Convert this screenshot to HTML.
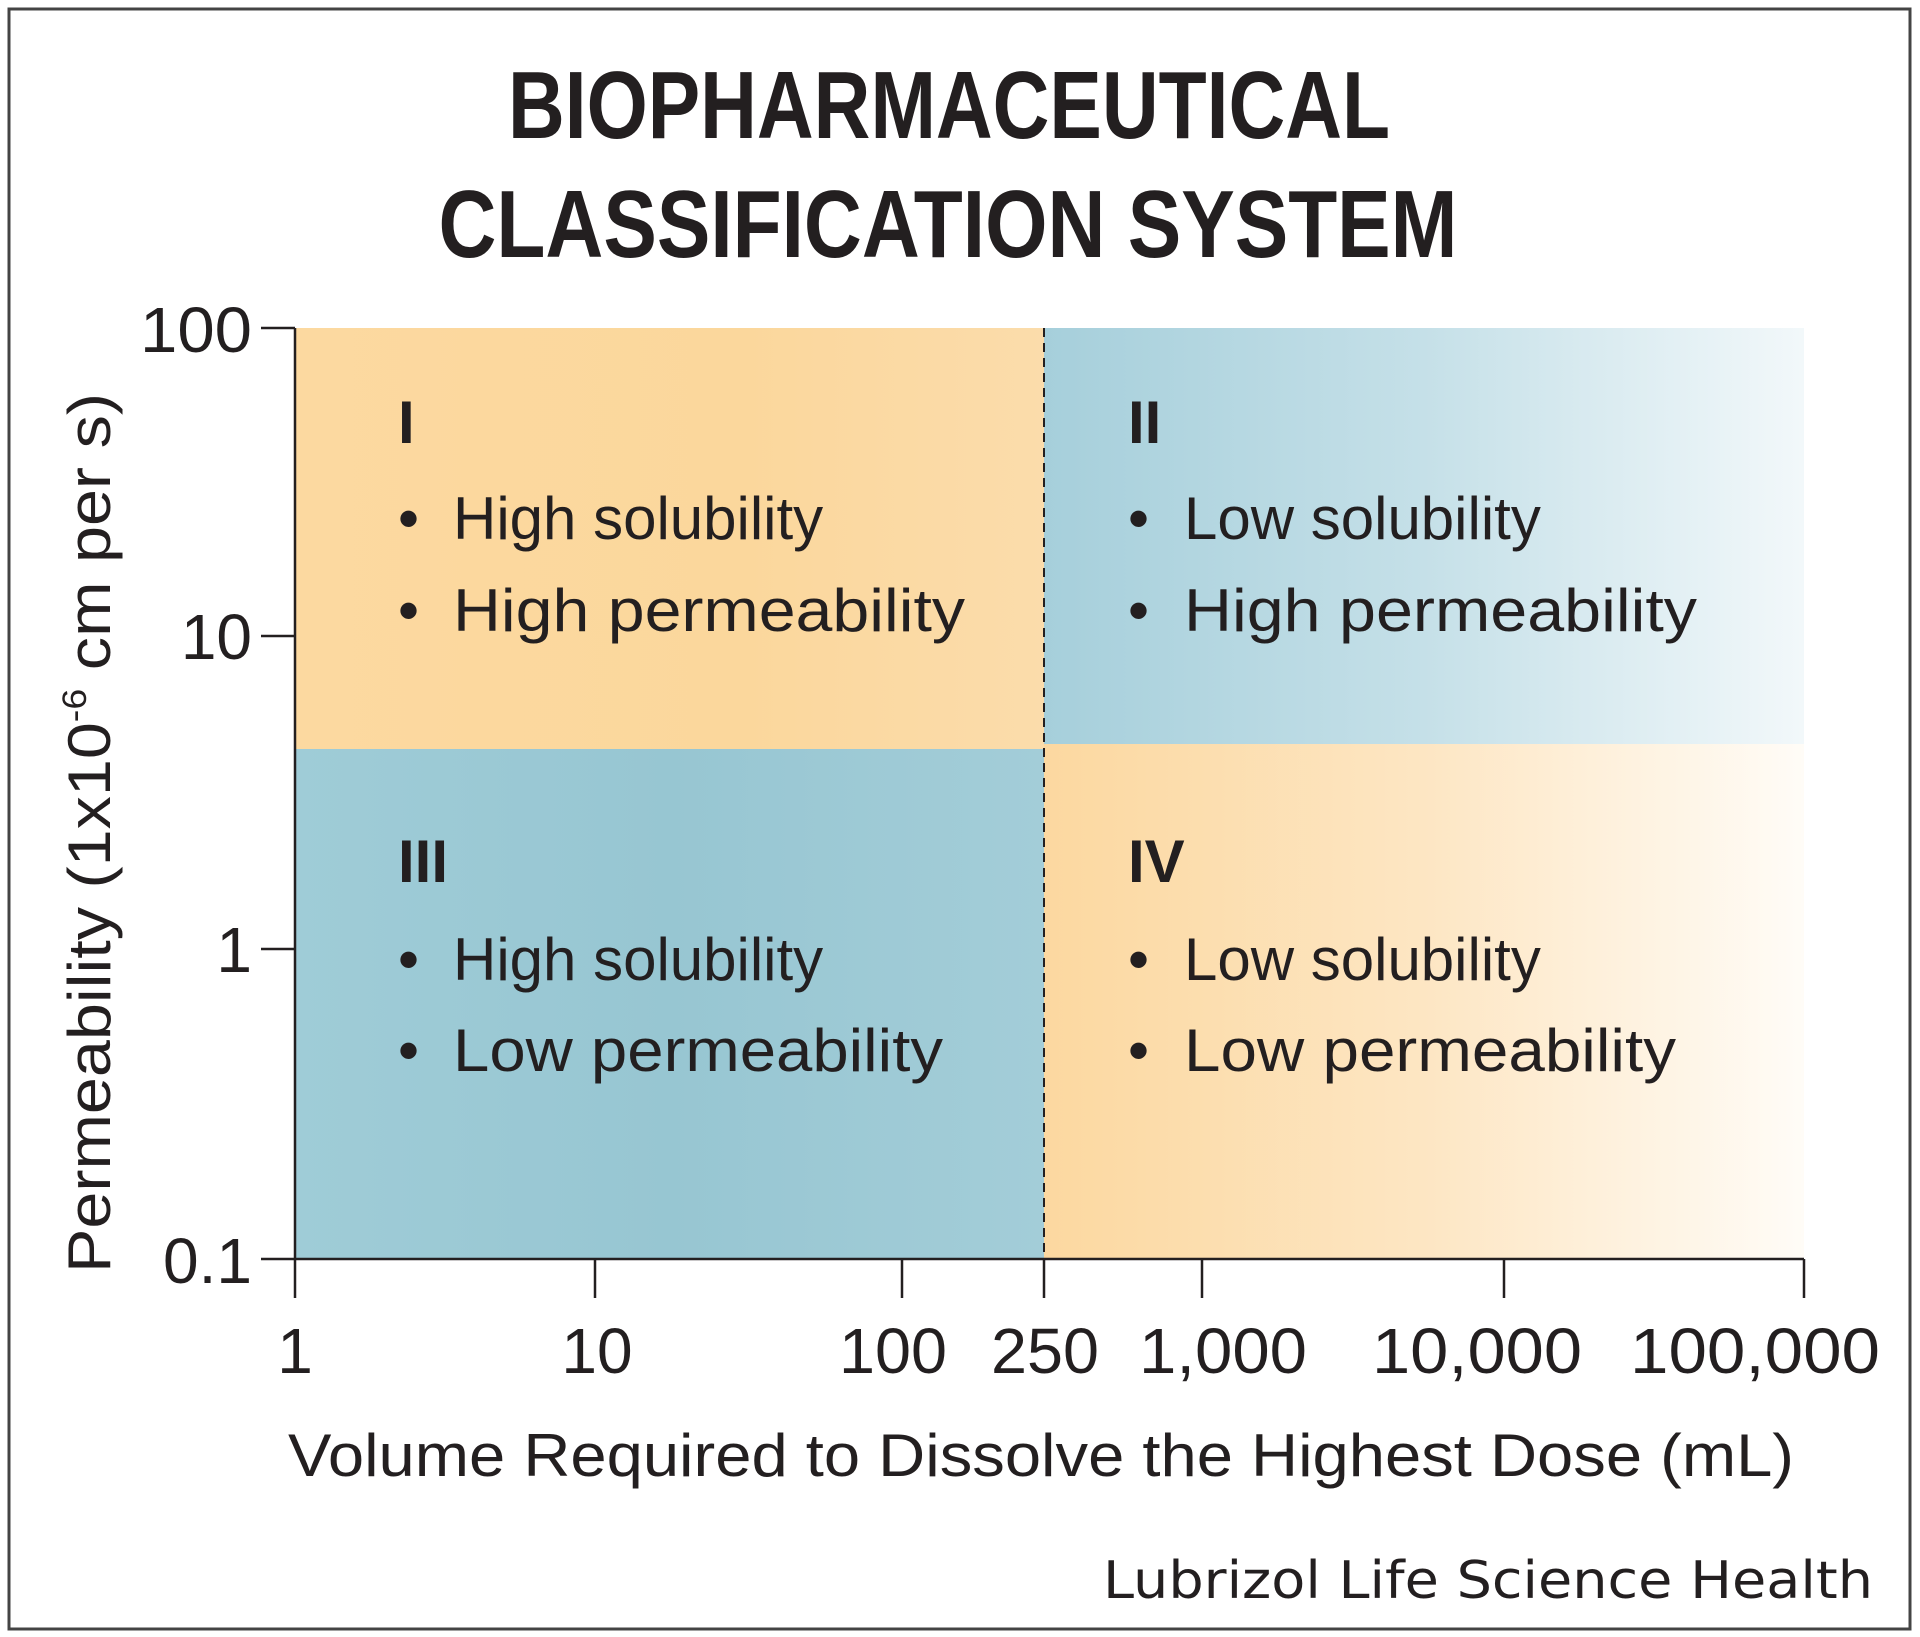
<!DOCTYPE html>
<html><head><meta charset="utf-8"><style>
html,body{margin:0;padding:0;background:#fff}
svg{display:block}
text{font-family:"Liberation Sans",sans-serif;fill:#231f20}
</style></head><body>
<svg width="1920" height="1637" viewBox="0 0 1920 1637" xmlns="http://www.w3.org/2000/svg">
<defs>
<linearGradient id="g1" x1="0" y1="0" x2="1" y2="0"><stop offset="0" stop-color="#fcd9a0"/><stop offset="0.6" stop-color="#fbd79c"/><stop offset="1" stop-color="#fbdcab"/></linearGradient>
<linearGradient id="g2" x1="0" y1="0" x2="1" y2="0"><stop offset="0" stop-color="#a6cfdb"/><stop offset="0.5" stop-color="#c5e0e8"/><stop offset="1" stop-color="#f2f8fa"/></linearGradient>
<linearGradient id="g3" x1="0" y1="0" x2="1" y2="0"><stop offset="0" stop-color="#9fccd7"/><stop offset="0.5" stop-color="#97c6d2"/><stop offset="1" stop-color="#a3cdd8"/></linearGradient>
<linearGradient id="g4" x1="0" y1="0" x2="1" y2="0"><stop offset="0" stop-color="#fcd8a0"/><stop offset="0.5" stop-color="#fde6c3"/><stop offset="1" stop-color="#fffcf7"/></linearGradient>
</defs>
<rect x="9" y="9" width="1901" height="1620" fill="#fff" stroke="#444" stroke-width="3"/>
<text x="949" y="138" font-size="96" font-weight="bold" text-anchor="middle" textLength="882" lengthAdjust="spacingAndGlyphs">BIOPHARMACEUTICAL</text>
<text x="948" y="257" font-size="96" font-weight="bold" text-anchor="middle" textLength="1019" lengthAdjust="spacingAndGlyphs">CLASSIFICATION SYSTEM</text>
<rect x="295" y="328" width="749" height="421" fill="url(#g1)"/>
<rect x="1044" y="328" width="760" height="416" fill="url(#g2)"/>
<rect x="295" y="749" width="749" height="510" fill="url(#g3)"/>
<rect x="1044" y="744" width="760" height="515" fill="url(#g4)"/>
<line x1="1044" y1="328" x2="1044" y2="1259" stroke="#231f20" stroke-width="2" stroke-dasharray="9,6"/>
<g stroke="#231f20" stroke-width="2.5" fill="none">
<path d="M295 328 V1259 H1804"/>
<path d="M261 328 H295 M261 636 H295 M261 949 H295 M261 1259 H295"/>
<path d="M295 1259 V1298 M595 1259 V1298 M902 1259 V1298 M1044 1259 V1298 M1202 1259 V1298 M1504 1259 V1298 M1804 1259 V1298"/>
</g>
<g font-size="64" text-anchor="end" fill="#231f20">
<text x="252" y="352" textLength="112" lengthAdjust="spacingAndGlyphs">100</text><text x="252" y="659">10</text><text x="252" y="972">1</text><text x="252" y="1283">0.1</text>
</g>
<g font-size="64" text-anchor="middle">
<text x="295" y="1373">1</text><text x="597" y="1373">10</text><text x="893" y="1373" textLength="108" lengthAdjust="spacingAndGlyphs">100</text><text x="1045" y="1373" textLength="108" lengthAdjust="spacingAndGlyphs">250</text><text x="1223" y="1373" textLength="168" lengthAdjust="spacingAndGlyphs">1,000</text><text x="1477" y="1373" textLength="210" lengthAdjust="spacingAndGlyphs">10,000</text><text x="1755" y="1373" textLength="250" lengthAdjust="spacingAndGlyphs">100,000</text>
</g>
<text x="1041" y="1476" font-size="60" text-anchor="middle" textLength="1506" lengthAdjust="spacingAndGlyphs">Volume Required to Dissolve the Highest Dose (mL)</text>
<text transform="translate(110,833) rotate(-90)" font-size="60" text-anchor="middle" textLength="880" lengthAdjust="spacingAndGlyphs">Permeability (1x10<tspan font-size="34" dy="-24">-6</tspan><tspan dy="24"> cm per s)</tspan></text>
<g font-size="60">
<text x="398" y="443" font-weight="bold">I</text>
<text x="398" y="539">• <tspan x="453">High solubility</tspan></text>
<text x="398" y="631">• <tspan x="453" textLength="512" lengthAdjust="spacingAndGlyphs">High permeability</tspan></text>
<text x="1128" y="443" font-weight="bold">II</text>
<text x="1128" y="539">• <tspan x="1184">Low solubility</tspan></text>
<text x="1128" y="631">• <tspan x="1184" textLength="513" lengthAdjust="spacingAndGlyphs">High permeability</tspan></text>
<text x="398" y="882" font-weight="bold">III</text>
<text x="398" y="980">• <tspan x="453">High solubility</tspan></text>
<text x="398" y="1071">• <tspan x="453" textLength="490" lengthAdjust="spacingAndGlyphs">Low permeability</tspan></text>
<text x="1128" y="882" font-weight="bold">IV</text>
<text x="1128" y="980">• <tspan x="1184">Low solubility</tspan></text>
<text x="1128" y="1071">• <tspan x="1184" textLength="492" lengthAdjust="spacingAndGlyphs">Low permeability</tspan></text>
</g>
<text x="1873" y="1598" font-size="52" text-anchor="end" style="font-family:'DejaVu Sans',sans-serif" fill="#000" textLength="770" lengthAdjust="spacingAndGlyphs">Lubrizol Life Science Health</text>
</svg>
</body></html>
